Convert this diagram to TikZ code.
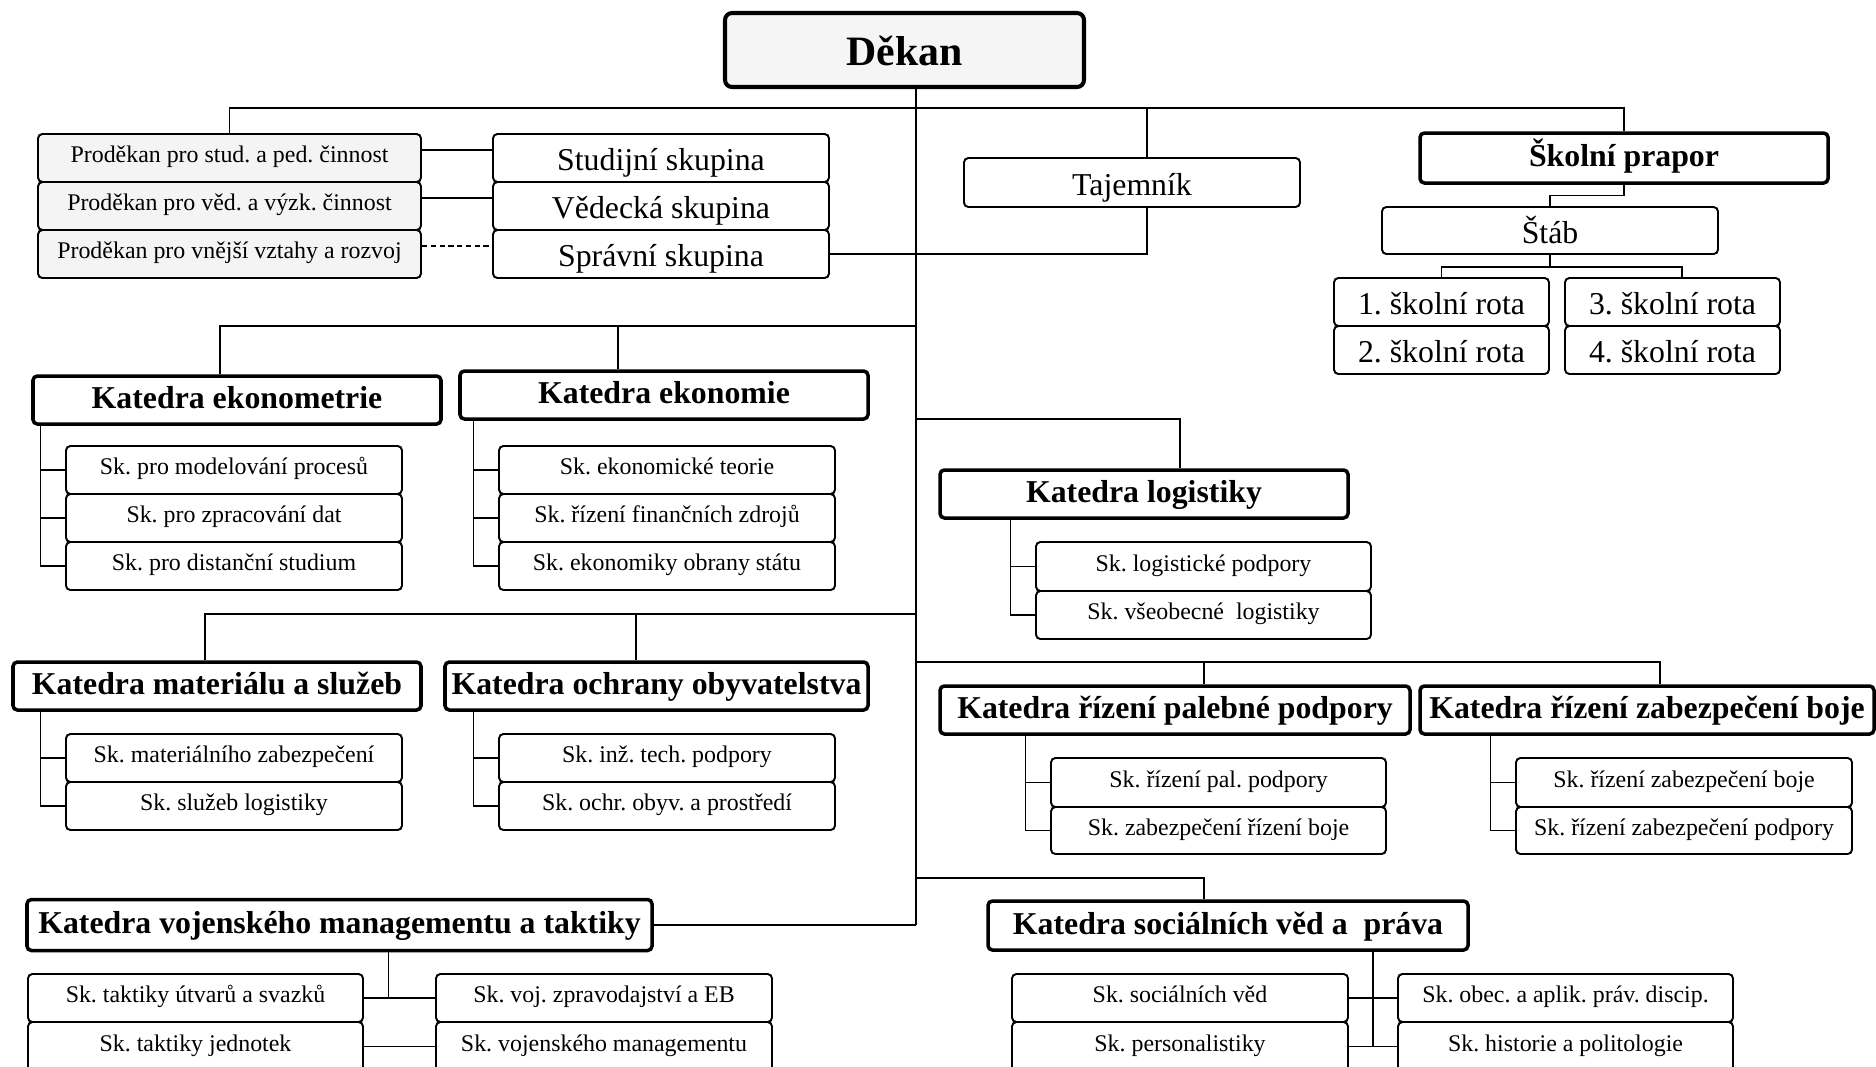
\documentclass[tikz,border=0pt]{standalone}
\usepackage{fontspec}
\setmainfont{Liberation Serif}
\newcommand{\px}{0.02cm}
\newcommand{\smallsize}{\fontsize{13.6}{16}\selectfont}
\newcommand{\midsize}{\fontsize{18.1}{21}\selectfont}
\newcommand{\bigsize}{\fontsize{23.8}{28}\selectfont}
\tikzset{
  every picture/.style={
    line width=0.75pt
  },
  box/.style={
    draw, rounded corners=2.5pt, line width=1.1pt, fill=white,
    inner sep=0pt, minimum height=48*\px, minimum width=336*\px,
    font=\midsize, text height=16pt, text depth=1.3pt
  },
  katbox/.style={
    box, line width=2pt, minimum width=408*\px,
    font=\midsize\bfseries, text height=14pt, text depth=3.8pt
  },
  subbox/.style={
    box, font=\smallsize, text height=11pt, text depth=5.4pt
  },
  prodbox/.style={
    subbox, fill=gray!9, minimum width=383*\px
  },
  headbox/.style={
    box, line width=2.3pt, rounded corners=4pt, fill=gray!8,
    minimum width=359*\px, minimum height=74*\px,
    font=\bigsize\bfseries, text height=20pt, text depth=2.2pt
  }
}

\begin{document}
\frenchspacing
\begin{tikzpicture}[
      x=\px, y=-\px
    ]
    \useasboundingbox (0,0) rectangle (1876,1066);
    \node [headbox] (dekan) at (904.5,50) {Děkan};
    \node [prodbox] (p1) at (229.5,158) {Proděkan pro stud. a ped. činnost};
    \node [prodbox] (p2) at (229.5,206) {Proděkan pro věd. a výzk. činnost};
    \node [prodbox] (p3) at (229.5,254) {Proděkan pro vnější vztahy a rozvoj};
    \node [box] (s1) at (661,158) {Studijní skupina};
    \node [box] (s2) at (661,206) {Vědecká skupina};
    \node [box] (s3) at (661,254) {Správní skupina};
    \node [box,minimum height=49*\px] (taj) at (1132,182.5) {Tajemník};
    \node [katbox,minimum height=50*\px] (prapor) at (1624,158) {Školní prapor};
    \node [box,minimum height=47*\px] (stab) at (1550,230.5) {Štáb};
    \node [box,minimum width=215*\px] (r1) at (1441.5,302) {1. školní rota};
    \node [box,minimum width=215*\px] (r2) at (1441.5,350) {2. školní rota};
    \node [box,minimum width=215*\px] (r3) at (1672.5,302) {3. školní rota};
    \node [box,minimum width=215*\px] (r4) at (1672.5,350) {4. školní rota};

    \node [katbox] (kekm) at (237,400) {Katedra ekonometrie};
    \node [katbox] (keko) at (664,395) {Katedra ekonomie};
    \node [subbox] (e1) at (234,470) {Sk. pro modelování procesů};
    \node [subbox] (e2) at (234,518) {Sk. pro zpracování dat};
    \node [subbox] (e3) at (234,566) {Sk. pro distanční studium};
    \node [subbox] (f1) at (667,470) {Sk. ekonomické teorie};
    \node [subbox] (f2) at (667,518) {Sk. řízení finančních zdrojů};
    \node [subbox] (f3) at (667,566) {Sk. ekonomiky obrany státu};

    \node [katbox] (kmat) at (217,686) {Katedra materiálu a služeb};
    \node [katbox,minimum width=423*\px] (koch) at (656.5,686) {Katedra ochrany obyvatelstva};
    \node [subbox] (m1) at (234,758) {Sk. materiálního zabezpečení};
    \node [subbox] (m2) at (234,806) {Sk. služeb logistiky};
    \node [subbox] (o1) at (667,758) {Sk. inž. tech. podpory};
    \node [subbox] (o2) at (667,806) {Sk. ochr. obyv. a prostředí};

    \node [katbox,minimum width=625*\px,minimum height=51*\px] (kvoj) at (339.5,925) {Katedra vojenského managementu a taktiky};
    \node [subbox,minimum width=335*\px] (v1) at (195.5,998) {Sk. taktiky útvarů a svazků};
    \node [subbox,minimum width=335*\px,minimum height=49*\px] (v2) at (195.5,1046.5) {Sk. taktiky jednotek};
    \node [subbox] (w1) at (604,998) {Sk. voj. zpravodajství a EB};
    \node [subbox,minimum height=49*\px] (w2) at (604,1046.5) {Sk. vojenského managementu};

    \node [katbox] (klog) at (1144,494) {Katedra logistiky};
    \node [subbox,minimum width=335*\px,minimum height=49*\px] (l1) at (1203.5,566.5) {Sk. logistické podpory};
    \node [subbox,minimum width=335*\px] (l2) at (1203.5,615) {Sk. všeobecné\ \ logistiky};

    \node [katbox,minimum width=470*\px] (kpal) at (1175,710) {Katedra řízení palebné podpory};
    \node [katbox,minimum width=454*\px] (kzab) at (1647,710) {Katedra řízení zabezpečení boje};
    \node [subbox,minimum width=335*\px,minimum height=49*\px] (a1) at (1218.5,782.5) {Sk. řízení pal. podpory};
    \node [subbox,minimum width=335*\px,minimum height=47*\px] (a2) at (1218.5,830.5) {Sk. zabezpečení řízení boje};
    \node [subbox,minimum height=49*\px] (b1) at (1684,782.5) {Sk. řízení zabezpečení boje};
    \node [subbox,minimum height=47*\px] (b2) at (1684,830.5) {Sk. řízení zabezpečení podpory};

    \node [katbox,minimum width=480*\px,minimum height=49*\px] (ksoc) at (1228,925.5) {Katedra sociálních věd a\ \ práva};
    \node [subbox] (q1) at (1180,998) {Sk. sociálních věd};
    \node [subbox,minimum height=49*\px] (q2) at (1180,1046.5) {Sk. personalistiky};
    \node [subbox,minimum width=335*\px] (h1) at (1565.5,998) {Sk. obec. a aplik. práv. discip.};
    \node [subbox,minimum width=335*\px,minimum height=49*\px] (h2) at (1565.5,1046.5) {Sk. historie a politologie};

    \coordinate (bus1) at (916,108);
    \coordinate (bus2) at (916,326);
    \coordinate (bus3) at (916,614);
    \coordinate (j4) at (916,419);
    \coordinate (j5) at (916,662);
    \coordinate (j6) at (916,878);
    \coordinate (trunk) at (916,925);

    \draw (dekan.south -| trunk) -- (trunk);
    \draw (p1.north) |- (bus1) -| (prapor.north);
    \draw ([xshift=0.3cm]taj.north) |- (bus1);
    \draw (s3.east) -| ([xshift=0.3cm]taj.south);
    \draw ([yshift=0.16cm]p1.east) -- ([yshift=0.16cm]s1.west);
    \draw ([yshift=0.16cm]p2.east) -- ([yshift=0.16cm]s2.west);
    \draw [dash pattern=on 3pt off 2pt] ([yshift=0.16cm]p3.east) -- ([yshift=0.16cm]s3.west);
    \draw (prapor.south) -- ++(0,11) -| (stab.north);
    \draw (stab.south) -- ++(0,12) -| (r1.north);
    \draw (stab.south) ++(0,12) -| ([xshift=0.19cm]r3.north);

    \draw ([xshift=-0.34cm]kekm.north) |- (bus2);
    \draw ([xshift=-0.92cm]keko.north) |- (bus2);
    \draw ([xshift=-0.24cm]kmat.north) |- (bus3);
    \draw ([xshift=-0.41cm]koch.north) |- (bus3);
    \draw (kvoj.east) -- (trunk);
    \draw ([xshift=0.72cm]klog.north) |- (j4);
    \draw ([xshift=0.58cm]kpal.north) |- (j5);
    \draw ([xshift=0.26cm]kzab.north) |- (j5);
    \draw ([xshift=-0.48cm]ksoc.north) |- (j6);

    \draw ([xshift=0.18cm]kekm.south west) |- (e3.west);
    \draw ([xshift=0.3cm]keko.south west) |- (f3.west);
    \draw ([xshift=0.58cm]kmat.south west) |- (m2.west);
    \draw ([xshift=0.6cm]koch.south west) |- (o2.west);
    \draw ([xshift=1.44cm]klog.south west) |- (l2.west);
    \draw ([xshift=1.74cm]kpal.south west) |- (a2.west);
    \draw ([xshift=1.44cm]kzab.south west) |- (b2.west);
    \foreach \s in {e1,e2,f1,f2,m1,o1,l1,a1,b1}
      \draw (\s.west) -- ++(-24,0);

    \draw ([xshift=0.98cm]kvoj.south) |- (v1.east);
    \draw (v1.east) -- (w1.west);
    \draw (v2.east) -- (w2.west);
    \draw ([xshift=2.9cm]ksoc.south) |- (q2.east);
    \draw (q1.east) -- (h1.west);
    \draw (q2.east) -- (h2.west);
  \end{tikzpicture}
\end{document}
